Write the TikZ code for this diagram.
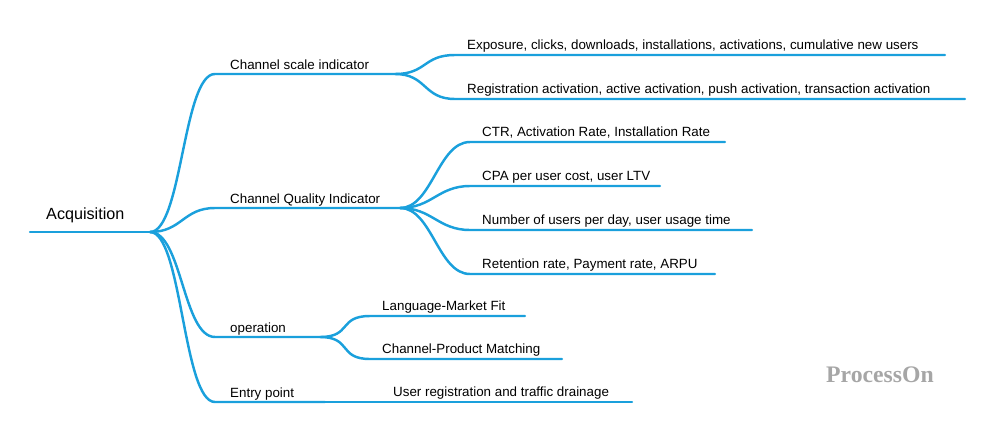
\documentclass[tikz,border=0pt]{standalone}
\usepackage{fontspec}
\setmainfont{Liberation Sans}
\usepackage[dvipsnames]{xcolor}
\usetikzlibrary{calc}
\definecolor{branch}{HTML}{1AA0DC}
\begin{document}
\begin{tikzpicture}[x=0.02cm,y=-0.02cm,line width=1.4pt,
    link/.style={draw=branch,line cap=round},
    leaf/.style={anchor=base west,inner sep=0pt,font=\fontsize{7.6}{9}\selectfont}]
\useasboundingbox (0,0) rectangle (993,433);
% root
\coordinate (r0) at (30,232);
\coordinate (r1) at (150,232);
\node[leaf,font=\fontsize{9.2}{11}\selectfont] (root) at (45,219) {Acquisition};
\draw[link] (r0) -- (r1);
% main branches
\foreach \n/\y/\e/\t in {scale/74/395/Channel scale indicator,
    quality/208/400/Channel Quality Indicator,
    oper/337/320/operation,
    entry/402/325/Entry point}{
  \coordinate (\n a) at (215,\y);
  \coordinate (\n b) at (\e,\y);
  \node[leaf] (\n) at (229,\y-5) {\t};
  \draw[link] (r1) .. controls (182,232) and (183,\y) .. (\n a) -- (\n b);
}
% leaves
\foreach \p/\n/\x/\y/\e/\t in {
    scale/l1/455/55/945/{Exposure, clicks, downloads, installations, activations, cumulative new users},
    scale/l2/455/99/965/{Registration activation, active activation, push activation, transaction activation},
    quality/l3/470/142/725/{CTR, Activation Rate, Installation Rate},
    quality/l4/470/186/660/{CPA per user cost, user LTV},
    quality/l5/470/230/752/{Number of users per day, user usage time},
    quality/l6/470/274/715/{Retention rate, Payment rate, ARPU},
    oper/l7/370/316/525/{Language-Market Fit},
    oper/l8/370/359/562/{Channel-Product Matching}}{
  \coordinate (\n a) at (\x,\y);
  \coordinate (\n b) at (\e,\y);
  \node[leaf] (\n) at (\x+11,\y-6) {\t};
  \draw[link] (\p b) .. controls ($(\p b)+(32,0)$) and (\x-32,\y) .. (\n a) -- (\n b);
}
\coordinate (l9b) at (632,402);
\node[leaf] (l9) at (392,396) {User registration and traffic drainage};
\draw[link] (entryb) -- (l9b);
% watermark
\node[anchor=base,inner sep=0pt,text=black!35,font=\fontsize{13.5}{15}\bfseries\rmfamily] (mark) at (880,382)
  {\fontspec{Liberation Serif}ProcessOn};
\end{tikzpicture}
\end{document}
